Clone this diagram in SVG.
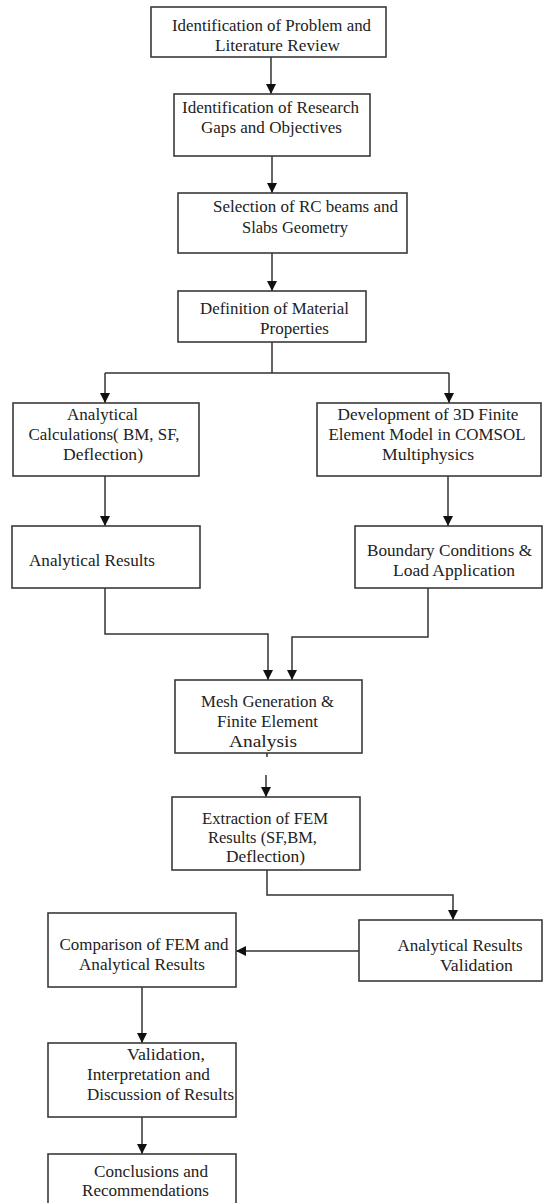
<svg xmlns="http://www.w3.org/2000/svg" width="543" height="1203" viewBox="0 0 543 1203">
<style>
.box{fill:#fff;stroke:#3a3a3a;stroke-width:1.6}
.t{font-family:"Liberation Serif","Times New Roman",serif;font-size:17.5px;fill:#222;text-anchor:middle}
.c{fill:none;stroke:#333;stroke-width:1.5}
</style>
<defs>
<marker id="ah" markerUnits="userSpaceOnUse" markerWidth="10" markerHeight="10" refX="10" refY="5" orient="auto" viewBox="0 0 10 10">
<path d="M0,0 L10,5 L0,10 z" fill="#111"/>
</marker>
</defs>
<rect width="543" height="1203" fill="#fff"/>
<g id="connectors">
<path class="c" d="M271,57 V94" marker-end="url(#ah)"/>
<path class="c" d="M272,156 V193" marker-end="url(#ah)"/>
<path class="c" d="M272,253 V291" marker-end="url(#ah)"/>
<path class="c" d="M272,342 V373 M105,373 H449"/>
<path class="c" d="M105,373 V403" marker-end="url(#ah)"/>
<path class="c" d="M449,373 V403" marker-end="url(#ah)"/>
<path class="c" d="M105,476 V526" marker-end="url(#ah)"/>
<path class="c" d="M448,476 V526" marker-end="url(#ah)"/>
<path class="c" d="M105,588 V634 H268 V680" marker-end="url(#ah)"/>
<path class="c" d="M428,588 V637 H292 V680" marker-end="url(#ah)"/>
<path class="c" d="M267,753 V757"/>
<path class="c" d="M266,775 V797" marker-end="url(#ah)"/>
<path class="c" d="M267,870 V895 H453 V920" marker-end="url(#ah)"/>
<path class="c" d="M359,951 H236" marker-end="url(#ah)"/>
<path class="c" d="M142,987 V1043" marker-end="url(#ah)"/>
<path class="c" d="M142,1117 V1154" marker-end="url(#ah)"/>
</g>
<g id="n1"><rect class="box" x="151" y="7" width="235" height="50"/>
<text class="t" x="271.5" y="31" textLength="199" lengthAdjust="spacingAndGlyphs">Identification of Problem and</text>
<text class="t" x="277.5" y="51" textLength="125" lengthAdjust="spacingAndGlyphs">Literature Review</text></g>
<g id="n2"><rect class="box" x="174" y="94" width="196" height="62"/>
<text class="t" x="270.5" y="113" textLength="177" lengthAdjust="spacingAndGlyphs">Identification of Research</text>
<text class="t" x="271.5" y="133" textLength="141" lengthAdjust="spacingAndGlyphs">Gaps and Objectives</text></g>
<g id="n3"><rect class="box" x="178" y="193" width="229" height="60"/>
<text class="t" x="305.5" y="212" textLength="185" lengthAdjust="spacingAndGlyphs">Selection of RC beams and</text>
<text class="t" x="295" y="233" textLength="106" lengthAdjust="spacingAndGlyphs">Slabs Geometry</text></g>
<g id="n4"><rect class="box" x="178" y="291" width="188" height="51"/>
<text class="t" x="274.5" y="314" textLength="149" lengthAdjust="spacingAndGlyphs">Definition of Material</text>
<text class="t" x="294.5" y="334" textLength="69" lengthAdjust="spacingAndGlyphs">Properties</text></g>
<g id="n5"><rect class="box" x="13" y="403" width="186" height="73"/>
<text class="t" x="102.5" y="420" textLength="71" lengthAdjust="spacingAndGlyphs">Analytical</text>
<text class="t" x="104" y="440" textLength="151" lengthAdjust="spacingAndGlyphs">Calculations( BM, SF,</text>
<text class="t" x="103" y="460" textLength="80" lengthAdjust="spacingAndGlyphs">Deflection)</text></g>
<g id="n6"><rect class="box" x="317" y="403" width="224" height="73"/>
<text class="t" x="428" y="420" textLength="181" lengthAdjust="spacingAndGlyphs">Development of 3D Finite</text>
<text class="t" x="427" y="440" textLength="197" lengthAdjust="spacingAndGlyphs">Element Model in COMSOL</text>
<text class="t" x="428" y="460" textLength="92" lengthAdjust="spacingAndGlyphs">Multiphysics</text></g>
<g id="n7"><rect class="box" x="12" y="526" width="188" height="62"/>
<text class="t" x="92" y="566" textLength="126" lengthAdjust="spacingAndGlyphs">Analytical Results</text></g>
<g id="n8"><rect class="box" x="355" y="526" width="187" height="62"/>
<text class="t" x="449.5" y="556" textLength="165" lengthAdjust="spacingAndGlyphs">Boundary Conditions &amp;</text>
<text class="t" x="454" y="576" textLength="122" lengthAdjust="spacingAndGlyphs">Load Application</text></g>
<g id="n9"><rect class="box" x="175" y="680" width="187" height="73"/>
<text class="t" x="267.5" y="707" textLength="133" lengthAdjust="spacingAndGlyphs">Mesh Generation &amp;</text>
<text class="t" x="267.5" y="727" textLength="101" lengthAdjust="spacingAndGlyphs">Finite Element</text>
<text class="t" x="263" y="747" textLength="68" lengthAdjust="spacingAndGlyphs">Analysis</text></g>
<g id="n10"><rect class="box" x="172" y="797" width="188" height="73"/>
<text class="t" x="265" y="824" textLength="126" lengthAdjust="spacingAndGlyphs">Extraction of FEM</text>
<text class="t" x="262.5" y="843" textLength="109" lengthAdjust="spacingAndGlyphs">Results (SF,BM,</text>
<text class="t" x="265.5" y="862" textLength="79" lengthAdjust="spacingAndGlyphs">Deflection)</text></g>
<g id="n11"><rect class="box" x="359" y="920" width="183" height="61"/>
<text class="t" x="460" y="951" textLength="125" lengthAdjust="spacingAndGlyphs">Analytical Results</text>
<text class="t" x="476.5" y="971" textLength="73" lengthAdjust="spacingAndGlyphs">Validation</text></g>
<g id="n12"><rect class="box" x="48" y="913" width="188" height="74"/>
<text class="t" x="144" y="950" textLength="169" lengthAdjust="spacingAndGlyphs">Comparison of FEM and</text>
<text class="t" x="142" y="970" textLength="126" lengthAdjust="spacingAndGlyphs">Analytical Results</text></g>
<g id="n13"><rect class="box" x="48" y="1043" width="188" height="74"/>
<text class="t" x="166" y="1060" textLength="78" lengthAdjust="spacingAndGlyphs">Validation,</text>
<text class="t" x="148.5" y="1080" textLength="123" lengthAdjust="spacingAndGlyphs">Interpretation and</text>
<text class="t" x="160.5" y="1100" textLength="147" lengthAdjust="spacingAndGlyphs">Discussion of Results</text></g>
<g id="n14"><rect class="box" x="48" y="1154" width="188" height="54"/>
<text class="t" x="151" y="1177" textLength="114" lengthAdjust="spacingAndGlyphs">Conclusions and</text>
<text class="t" x="145.5" y="1196" textLength="127" lengthAdjust="spacingAndGlyphs">Recommendations</text></g>
</svg>
